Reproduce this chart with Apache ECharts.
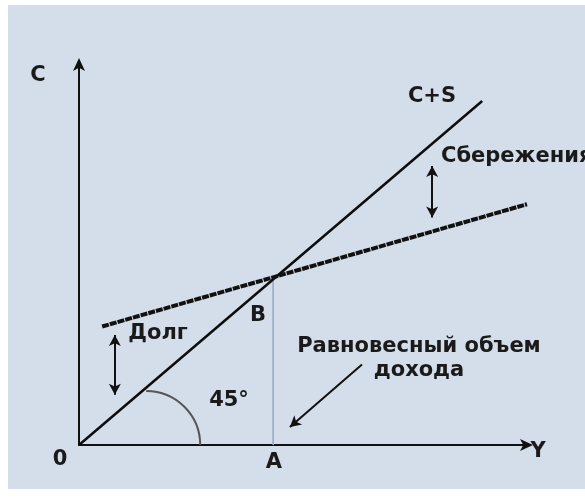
<!DOCTYPE html>
<html lang="ru">
<head>
    <meta charset="UTF-8">
    <title>Равновесный объем дохода</title>
    <script type="text/javascript" src="https://cdn.jsdelivr.net/npm/echarts@6/dist/echarts.min.js"></script>
    <style>
        *{
            margin:0;
            padding:0;
        }
        body {
            background:#ffffff;
        }
        #main {
            position:absolute;
            left:0;
            top:0;
            width:585px;
            height:499px;
        }
    </style>
</head>
<body>
<div id="main"></div>
<script type="text/javascript">
    // линии графика (координаты в условных единицах осей)
    var lineCS = [[0, 0], [10.8, 9.03]];          // C+S, линия 45°
    var lineC = [[0.62, 3.11], [12, 6.32]];       // потребление
    var pointB = [5.2, 4.35];                     // точка равновесия
    var arrowDebt = [[0.96, 2.89], [0.96, 1.32]];     // Долг
    var arrowSaving = [[9.46, 7.32], [9.46, 5.97]];   // Сбережения
    var arrowEq = [[7.58, 2.11], [5.65, 0.47]];       // Равновесный объем дохода
    var arcCenter = [1.8, 0];

    var dom = document.getElementById("main");
    var myChart = echarts.init(dom);

    var font = '"DejaVu Sans", Verdana, sans-serif';
    var txt = function (text, x, y, align) {
        return {
            type: 'text',
            x: x,
            y: y,
            z: 10,
            style: {
                text: text,
                fill: '#1a1a1a',
                font: 'bold 21px ' + font,
                align: align || 'center',
                verticalAlign: 'middle'
            }
        };
    };

    var option = {
        animation: false,
        backgroundColor: '#ffffff',
        grid: {
            left: 79,
            right: 58,
            top: 64,
            bottom: 54
        },
        xAxis: {
            type: 'value',
            min: 0,
            max: 12,
            axisLine: {
                lineStyle: { color: '#111', width: 2 },
                symbol: ['none', 'arrow'],
                symbolSize: [9, 13],
                symbolOffset: [0, 6]
            },
            axisTick: { show: false },
            axisLabel: { show: false },
            splitLine: { show: false }
        },
        yAxis: {
            type: 'value',
            min: 0,
            max: 10,
            axisLine: {
                lineStyle: { color: '#111', width: 2 },
                symbol: ['none', 'arrow'],
                symbolSize: [9, 13],
                symbolOffset: [0, 6]
            },
            axisTick: { show: false },
            axisLabel: { show: false },
            splitLine: { show: false }
        },
        series: [
            {
                type: 'line',
                data: [[pointB[0], 0], pointB],
                symbol: 'none',
                lineStyle: { color: '#98aac3', width: 1.6 }
            },
            {
                type: 'line',
                data: lineCS,
                symbol: 'none',
                lineStyle: { color: '#0d0d0d', width: 2.5 }
            },
            {
                type: 'line',
                data: lineC,
                symbol: 'none',
                lineStyle: { color: '#111', width: 4, type: [7, 1] }
            },
            {
                type: 'line',
                data: [],
                markLine: {
                    silent: true,
                    label: { show: false },
                    lineStyle: { color: '#111', width: 2, type: 'solid' },
                    symbol: ['arrow', 'arrow'],
                    symbolSize: [9, 11],
                    data: [
                        [{ coord: arrowDebt[0] }, { coord: arrowDebt[1] }],
                        [{ coord: arrowSaving[0] }, { coord: arrowSaving[1] }],
                        [{ coord: arrowEq[0], symbol: 'none' }, { coord: arrowEq[1] }]
                    ]
                }
            }
        ]
    };

    myChart.setOption(option);

    // дуга угла 45° и подписи
    var c = myChart.convertToPixel({ gridIndex: 0 }, arcCenter);
    myChart.setOption({
        graphic: [
            {
                type: 'rect',
                z: -10,
                shape: { x: 8, y: 5, width: 577, height: 484 },
                style: { fill: '#d4deea' }
            },
            {
                type: 'arc',
                z: 5,
                shape: { cx: c[0], cy: c[1], r: 54, startAngle: -Math.PI / 2, endAngle: 0 },
                style: { stroke: '#555', lineWidth: 2, fill: null }
            },
            txt('C', 38, 76),
            txt('C+S', 432, 97),
            txt('Сбережения', 441, 157, 'left'),
            txt('B', 258, 316),
            txt('Долг', 158, 334),
            txt('45°', 229, 401),
            txt('Равновесный объем', 419, 347),
            txt('дохода', 419, 371),
            txt('0', 60, 460),
            txt('A', 274, 463),
            txt('Y', 538, 452)
        ]
    });
</script>
</body>
</html>
